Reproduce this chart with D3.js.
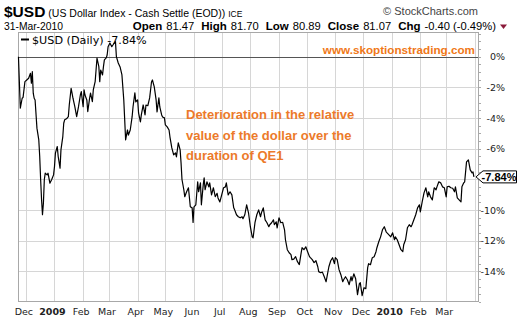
<!DOCTYPE html>
<html><head><meta charset="utf-8">
<script src="https://cdn.jsdelivr.net/npm/d3@7"></script>
<style>body{margin:0;background:#fff}svg{display:block}</style>
</head><body>
<svg id="c" width="524" height="322"></svg>
<script>
// ---- data ----
const dates = [
"2008-11-23","2008-11-25","2008-11-27","2008-11-28","2008-11-30","2008-12-02","2008-12-04","2008-12-06","2008-12-07","2008-12-08",
"2008-12-09","2008-12-10","2008-12-11","2008-12-13","2008-12-15","2008-12-16","2008-12-17","2008-12-18","2008-12-19","2008-12-20",
"2008-12-21","2008-12-22","2008-12-24","2008-12-25","2008-12-27","2008-12-29","2008-12-31","2009-01-01","2009-01-02","2009-01-04",
"2009-01-05","2009-01-07","2009-01-08","2009-01-10","2009-01-11","2009-01-12","2009-01-14","2009-01-16","2009-01-17","2009-01-19",
"2009-01-20","2009-01-21","2009-01-23","2009-01-25","2009-01-27","2009-01-29","2009-01-30","2009-02-01","2009-02-02","2009-02-03",
"2009-02-05","2009-02-06","2009-02-08","2009-02-09","2009-02-11","2009-02-12","2009-02-14","2009-02-15","2009-02-16","2009-02-18",
"2009-02-19","2009-02-20","2009-02-22","2009-02-23","2009-02-24","2009-02-26","2009-02-27","2009-02-28","2009-03-02","2009-03-04",
"2009-03-06","2009-03-08","2009-03-09","2009-03-11","2009-03-13","2009-03-15","2009-03-17","2009-03-18","2009-03-19","2009-03-21",
"2009-03-22","2009-03-24","2009-03-26","2009-03-27","2009-03-29","2009-03-30","2009-04-01","2009-04-02","2009-04-04","2009-04-05",
"2009-04-07","2009-04-09","2009-04-10","2009-04-12","2009-04-14","2009-04-16","2009-04-17","2009-04-19","2009-04-21","2009-04-22",
"2009-04-24","2009-04-25","2009-04-27","2009-04-28","2009-04-30","2009-05-01","2009-05-03","2009-05-05","2009-05-06","2009-05-08",
"2009-05-10","2009-05-12","2009-05-13","2009-05-15","2009-05-17","2009-05-18","2009-05-19","2009-05-21","2009-05-22","2009-05-24",
"2009-05-26","2009-05-28","2009-05-30","2009-05-31","2009-06-01","2009-06-03","2009-06-05","2009-06-06","2009-06-08","2009-06-09",
"2009-06-11","2009-06-12","2009-06-13","2009-06-15","2009-06-17","2009-06-18","2009-06-20","2009-06-22","2009-06-24","2009-06-26",
"2009-06-27","2009-06-29","2009-07-01","2009-07-03","2009-07-05","2009-07-06","2009-07-08","2009-07-10","2009-07-12","2009-07-14",
"2009-07-15","2009-07-17","2009-07-19","2009-07-21","2009-07-23","2009-07-24","2009-07-26","2009-07-28","2009-07-30","2009-08-01",
"2009-08-03","2009-08-04","2009-08-06","2009-08-08","2009-08-10","2009-08-12","2009-08-13","2009-08-15","2009-08-17","2009-08-19",
"2009-08-21","2009-08-22","2009-08-24","2009-08-26","2009-08-27","2009-08-29","2009-08-30","2009-09-01","2009-09-03","2009-09-05",
"2009-09-07","2009-09-08","2009-09-10","2009-09-12","2009-09-14","2009-09-15","2009-09-17","2009-09-19","2009-09-21","2009-09-23",
"2009-09-25","2009-09-26","2009-09-28","2009-09-30","2009-10-02","2009-10-04","2009-10-05","2009-10-07","2009-10-09","2009-10-11",
"2009-10-13","2009-10-14","2009-10-16","2009-10-18","2009-10-20","2009-10-22","2009-10-23","2009-10-25","2009-10-27","2009-10-29",
"2009-10-31","2009-11-01","2009-11-03","2009-11-05","2009-11-07","2009-11-09","2009-11-10","2009-11-12","2009-11-14","2009-11-16",
"2009-11-18","2009-11-19","2009-11-21","2009-11-23","2009-11-25","2009-11-27","2009-11-28","2009-11-30","2009-12-02","2009-12-04",
"2009-12-06","2009-12-07","2009-12-09","2009-12-11","2009-12-13","2009-12-15","2009-12-16","2009-12-18","2009-12-20","2009-12-22",
"2009-12-24","2009-12-26","2009-12-27","2009-12-29","2009-12-31","2010-01-02","2010-01-04","2010-01-05","2010-01-07","2010-01-09",
"2010-01-11","2010-01-13","2010-01-14","2010-01-16","2010-01-18","2010-01-20","2010-01-22","2010-01-23","2010-01-25","2010-01-27",
"2010-01-29","2010-01-31","2010-02-01","2010-02-03","2010-02-05","2010-02-07","2010-02-09","2010-02-10","2010-02-12","2010-02-14",
"2010-02-16","2010-02-18","2010-02-19","2010-02-21","2010-02-23","2010-02-25","2010-02-27","2010-03-01","2010-03-02","2010-03-04",
"2010-03-06","2010-03-08","2010-03-10","2010-03-11","2010-03-13","2010-03-15","2010-03-17","2010-03-18","2010-03-20","2010-03-21",
"2010-03-23","2010-03-25","2010-03-27","2010-03-29","2010-03-30","2010-03-31"
];
const values = [
0,-3.36,-2.71,-2.65,-1.63,-1.52,-1.41,-1.08,-1.73,-0.98,
-2.38,-2.71,-2.82,-4.66,-5.43,-6.51,-8.01,-9.32,-10.31,-9.55,
-8.01,-7.60,-7.71,-7.60,-8.25,-8.01,-7.71,-7.17,-6.29,-5.86,
-6.51,-7.27,-6.08,-5.21,-4.34,-4.12,-4.05,-3.91,-3.15,-2.06,
-2.38,-2.71,-3.26,-3.91,-3.26,-2.50,-2.28,-3.26,-2.17,-2.50,
-2.82,-3.58,-2.71,-2.38,-2.93,-2.17,-1.63,-0.87,-0.10,-0.65,
-1.63,-0.87,-1.19,-0.65,-0.21,-0.08,0.11,0.65,0.89,0.65,
0.83,0.98,0,-0.41,-0.67,-1.19,-2.82,-4.12,-5.43,-4.78,
-5.11,-4.78,-3.93,-3.28,-2.36,-2.95,-2.82,-3.67,-4.25,-3.80,
-3.15,-3.80,-3.15,-3.20,-2.69,-1.65,-1.52,-1.97,-2.82,-3.60,
-2.69,-3.28,-3.80,-3.93,-3.99,-4.45,-4.58,-4.78,-5.24,-5.95,
-6.40,-6.27,-6.53,-5.62,-6.08,-6.93,-8.01,-8.68,-9.13,-8.81,
-8.55,-9.79,-9.86,-10.81,-9.79,-9.66,-8.16,-8.81,-8.23,-9.66,
-8.36,-7.90,-8.68,-8.16,-8.49,-8.23,-9.01,-8.55,-9.13,-8.91,
-9.21,-9.47,-9.01,-8.55,-8.49,-8.23,-9.01,-8.81,-9.01,-9.86,
-9.99,-10.31,-10.44,-10.51,-10.44,-10.57,-10.31,-9.66,-10.18,-11.09,
-11.75,-11.81,-10.83,-10.31,-9.99,-10.44,-10.18,-9.86,-10.64,-10.83,
-11.09,-10.96,-10.83,-10.64,-10.96,-10.77,-11.16,-10.51,-10.83,-10.80,
-11.29,-11.94,-12.59,-12.79,-12.91,-13.24,-13.20,-13.04,-13.37,-13.56,
-12.79,-12.46,-12.59,-12.40,-12.72,-13.04,-13.11,-13.24,-13.43,-13.31,
-13.70,-14.02,-14.09,-14.05,-14.35,-14.68,-14.35,-13.70,-13.31,-13.11,
-13.50,-13.11,-13.24,-13.89,-14.22,-14.68,-14.55,-14.35,-14.55,-14.87,
-14.35,-14.62,-14.16,-14.48,-15.52,-14.80,-14.74,-15.59,-15.07,-15.13,
-13.76,-13.50,-13.57,-13.11,-13.05,-12.72,-12.46,-12.07,-11.75,-11.29,
-11.09,-11.42,-11.49,-11.62,-11.75,-11.49,-11.94,-11.75,-11.94,-12.27,
-12.59,-12.72,-12.27,-11.94,-11.16,-10.96,-11.09,-10.96,-10.64,-10.31,
-9.86,-9.66,-10.12,-9.47,-8.88,-8.55,-9.14,-8.81,-9.14,-9.34,
-8.55,-8.68,-8.49,-8.16,-8.23,-8.49,-8.55,-9.14,-8.49,-8.45,
-8.55,-8.58,-8.81,-8.49,-9.21,-9.34,-9.47,-8.49,-8.23,-8.16,
-6.86,-6.73,-7.38,-7.58,-7.52,-7.84
];
const yTicks = [0,-2,-4,-6,-8,-10,-12,-14];
const yTickLabels = ["0%","-2%","-4%","-6%","-8%","-10%","-12%","-14%"];
const monthNames = ["Jan","Feb","Mar","Apr","May","Jun","Jul","Aug","Sep","Oct","Nov","Dec"];
const symbol = "$USD";
const title = "(US Dollar Index - Cash Settle (EOD))";
const exchange = "ICE";
const dateLabel = "31-Mar-2010";
const quote = [["Open","81.47"],["High","81.70"],["Low","80.89"],["Close","81.07"],["Chg","-0.40 (-0.49%)"]];
const legendText = "$USD (Daily) -7.84%";
const lastLabel = "-7.84%";
const watermark = "www.skoptionstrading.com";
const noteLines = ["Deterioration in the relative","value of the dollar over the","duration of QE1"];
const credit = "\u00A9 StockCharts.com";

// ---- layout ----
const svg = d3.select("#c");
const L = 18, R = 479, T = 32, B = 302;
const parse = d3.timeParse("%Y-%m-%d");
const data = dates.map((d,i)=>({date:parse(d), v:values[i]}));
const x = d3.scaleTime().domain([new Date(2008,10,22,12), new Date(2010,3,5,12)]).range([L,R]);
const y = d3.scaleLinear().domain([-16,1.61]).range([B,T]);
const sans = "'Liberation Sans', Arial, sans-serif";
const dv = "'DejaVu Sans', Verdana, sans-serif";
const last = data[data.length-1];
const ly = y(last.v);

// gridlines
const months = d3.timeMonth.range(new Date(2008,11,1), new Date(2010,3,2));
svg.append("g").selectAll("line").data(months).join("line")
  .attr("x1",d=>Math.round(x(d))+0.5).attr("x2",d=>Math.round(x(d))+0.5)
  .attr("y1",T).attr("y2",B).attr("stroke","#d6d6d6").attr("stroke-width",1);
svg.append("g").selectAll("line").data(yTicks.filter(t=>t!==0)).join("line")
  .attr("x1",L).attr("x2",R)
  .attr("y1",d=>Math.round(y(d))+0.5).attr("y2",d=>Math.round(y(d))+0.5)
  .attr("stroke","#d6d6d6").attr("stroke-width",1);
// minor ticks on right axis
const minor = d3.range(-16,1.6,0.5);
svg.append("g").selectAll("line").data(minor).join("line")
  .attr("x1",R).attr("x2",R+2)
  .attr("y1",d=>Math.round(y(d))+0.5).attr("y2",d=>Math.round(y(d))+0.5)
  .attr("stroke","#aaa");
// zero line
svg.append("line").attr("x1",L).attr("x2",R)
  .attr("y1",Math.round(y(0))+0.5).attr("y2",Math.round(y(0))+0.5)
  .attr("stroke","#555").attr("stroke-width",1);
// border
svg.append("rect").attr("x",L+0.5).attr("y",T+0.5).attr("width",R-L-1).attr("height",B-T-1)
  .attr("fill","none").attr("stroke","#a8a8a8");

// y labels (the one hidden behind the last-value box is not drawn)
const yLab = yTicks.map((t,i)=>({t, s:yTickLabels[i]})).filter(d=>Math.abs(y(d.t)-ly)>9);
svg.append("g").selectAll("text").data(yLab).join("text")
  .attr("x",505).attr("y",d=>y(d.t)+3.5).attr("text-anchor","end")
  .attr("font-family",dv).attr("font-size",9.5).attr("fill","#222")
  .text(d=>d.s);

// x labels
svg.append("g").selectAll("text").data(months.filter(m=>x(m)<R-5)).join("text")
  .attr("x",d=>x(d)-2).attr("y",315).attr("text-anchor","middle")
  .attr("font-family",dv).attr("font-size",9.5).attr("fill","#222")
  .attr("font-weight",d=>d.getMonth()===0?"bold":"normal")
  .text(d=>d.getMonth()===0?String(d.getFullYear()):monthNames[d.getMonth()]);

// line
const line = d3.line().x(d=>x(d.date)).y(d=>y(d.v));
svg.append("path").datum(data).attr("d",line).attr("fill","none")
  .attr("stroke","#000").attr("stroke-width",1.2).attr("stroke-linejoin","round");

// legend
svg.append("line").attr("x1",21).attr("x2",29).attr("y1",39.5).attr("y2",39.5).attr("stroke","#000").attr("stroke-width",2);
svg.append("text").attr("x",32).attr("y",43.5).attr("font-family",dv).attr("font-size",11.2).attr("fill","#000").text(legendText);

// watermark
svg.append("text").attr("x",475).attr("y",54).attr("text-anchor","end")
  .attr("font-family",sans).attr("font-weight","bold").attr("font-size",11.7).attr("fill","#f07818").text(watermark);

// note
svg.append("g").selectAll("text").data(noteLines).join("text")
  .attr("x",186).attr("y",(d,i)=>119+i*20.5)
  .attr("font-family",sans).attr("font-weight","bold").attr("font-size",13).attr("fill","#ec7a2a").text(d=>d);

// last value label
svg.append("path").attr("d",`M${R-3},${ly} L${R+4},${ly-6} L516.5,${ly-6} L516.5,${ly+6} L${R+4},${ly+6} Z`)
  .attr("fill","#fff").attr("stroke","#000").attr("stroke-width",1);
svg.append("text").attr("x",499).attr("y",ly+4).attr("text-anchor","middle")
  .attr("font-family",sans).attr("font-weight","bold").attr("font-size",11).attr("fill","#000").text(lastLabel);

// header
const h1 = svg.append("text").attr("x",4).attr("y",17).attr("font-family",sans).attr("fill","#000");
h1.append("tspan").attr("font-weight","bold").attr("font-size",15.5).text(symbol);
h1.append("tspan").attr("font-size",10.5).attr("dx",3).text(title);
h1.append("tspan").attr("font-size",8.5).attr("dx",3).text(exchange);
svg.append("text").attr("x",4).attr("y",30.3).attr("font-family",sans).attr("font-size",10.3).attr("fill","#000").text(dateLabel);
const h2 = svg.append("text").attr("x",496).attr("y",30.3).attr("text-anchor","end").attr("font-family",sans).attr("fill","#000");
quote.forEach((q,i)=>{
  h2.append("tspan").attr("font-weight","bold").attr("font-size",11.5).attr("dx",i?7:0).text(q[0]);
  h2.append("tspan").attr("font-size",11.2).attr("dx",4).text(q[1]);
});
svg.append("path").attr("d","M500,24.5 L507,24.5 L503.5,29 Z").attr("fill","#8b1a3a");
svg.append("text").attr("x",478).attr("y",15).attr("text-anchor","end").attr("font-family",sans)
  .attr("font-size",11).attr("fill","#444").text(credit);
</script>
</body></html>
